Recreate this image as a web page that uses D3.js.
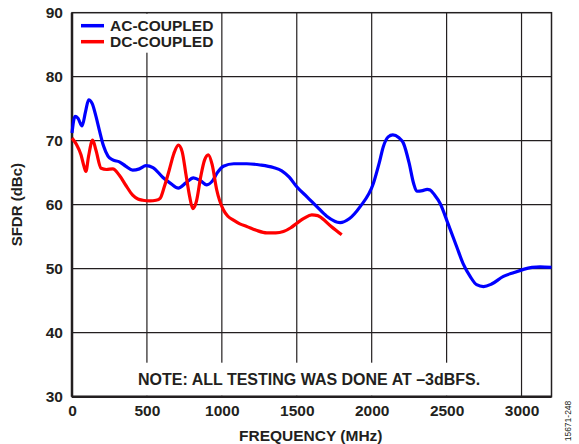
<!DOCTYPE html>
<html>
<head>
<meta charset="utf-8">
<script src="https://cdn.jsdelivr.net/npm/d3@7"></script>
<style>
  body { margin: 0; background: #fff; }
  text { font-family: "Liberation Sans", Arial, sans-serif; font-weight: bold; fill: #231f20; }
</style>
</head>
<body>
<div id="chart"></div>
<script>
// axis ticks
var freqTicks = [0, 500, 1000, 1500, 2000, 2500, 3000];
var sfdrTicks = [30, 40, 50, 60, 70, 80, 90];

// AC-coupled (blue)
var acFreq = [0, 20, 40, 67, 90, 111, 135, 160, 182, 210, 240, 272, 316, 360, 405, 450, 494, 540, 605, 660,
  710, 760, 810, 860, 899, 940, 970, 1010, 1080, 1166, 1255, 1344, 1400, 1450, 1500, 1570, 1634, 1700, 1789, 1850,
  1923, 2011, 2050, 2078, 2110, 2141, 2180, 2212, 2250, 2280, 2301, 2340, 2370, 2390, 2420, 2457, 2510, 2568, 2610, 2657,
  2700, 2746, 2800, 2879, 2950, 3013, 3070, 3124, 3200];
var acSfdr = [71.2, 73.8, 73.5, 72.3, 74.5, 76.4, 75.8, 73.8, 71.7, 69.2, 67.6, 67.0, 66.7, 66.0, 65.4, 65.6, 66.1, 65.8, 64.3, 63.3,
  62.6, 63.4, 64.2, 63.7, 63.1, 63.8, 65.0, 66.0, 66.4, 66.4, 66.2, 65.8, 65.3, 64.3, 62.8, 61.2, 59.7, 58.2, 57.2, 57.8,
  59.7, 63.3, 66.5, 69.1, 70.6, 70.9, 70.5, 69.6, 66.5, 63.3, 62.1, 62.2, 62.4, 62.3, 61.5, 60.2, 57.0, 53.4, 50.8, 48.8,
  47.5, 47.2, 47.6, 48.8, 49.4, 49.9, 50.2, 50.3, 50.2];

// DC-coupled (red)
var dcFreq = [0, 30, 60, 80, 93, 110, 138, 160, 194, 230, 272, 316, 360, 405, 440, 472, 520, 561, 588, 616,
  650, 680, 710, 735, 760, 785, 806, 830, 860, 885, 910, 935, 966, 1010, 1040, 1077, 1120, 1166, 1230, 1300,
  1360, 1411, 1460, 1500, 1550, 1600, 1640, 1667, 1730, 1800];
var dcSfdr = [70.4, 69.4, 67.8, 66.0, 65.2, 67.5, 70.1, 68.5, 65.7, 65.5, 65.6, 64.6, 63.0, 61.5, 60.9, 60.7, 60.6, 60.7, 61.0, 62.8,
  65.5, 68.0, 69.3, 68.3, 64.8, 61.3, 59.4, 60.5, 64.5, 67.0, 67.8, 66.3, 62.3, 59.2, 58.2, 57.6, 57.0, 56.6, 56.0, 55.6,
  55.6, 55.8, 56.4, 57.1, 57.9, 58.4, 58.3, 57.9, 56.6, 55.3];

var seriesNames = ["AC-COUPLED", "DC-COUPLED"];
var seriesColors = ["#0000ff", "#ff0000"];

var margin = {top: 12.7, right: 27.5, bottom: 47.3, left: 72},
    width = 579 - margin.left - margin.right,
    height = 444 - margin.top - margin.bottom;

var root = d3.select("#chart")
  .append("svg")
    .attr("width", 579)
    .attr("height", 444);

var svg = root.append("g")
    .attr("transform", "translate(" + margin.left + "," + margin.top + ")");

var x = d3.scaleLinear().domain([0, 3200]).range([0, width]);
var y = d3.scaleLinear().domain([30, 90]).range([height, 0]);

// grid
svg.append("g")
  .selectAll("line")
  .data(freqTicks.slice(1))
  .enter()
  .append("line")
    .attr("x1", function(d) { return x(d); })
    .attr("x2", function(d) { return x(d); })
    .attr("y1", 0)
    .attr("y2", height)
    .attr("stroke", "#231f20")
    .attr("stroke-width", 1.2);

svg.append("g")
  .selectAll("line")
  .data(sfdrTicks.slice(1, -1))
  .enter()
  .append("line")
    .attr("x1", 0)
    .attr("x2", width)
    .attr("y1", function(d) { return y(d); })
    .attr("y2", function(d) { return y(d); })
    .attr("stroke", "#231f20")
    .attr("stroke-width", 1.2);

// white boxes behind legend and note
svg.append("rect")
  .attr("x", 1).attr("y", 1)
  .attr("width", 145).attr("height", 39)
  .attr("fill", "#fff");

svg.append("rect")
  .attr("x", 62).attr("y", 350)
  .attr("width", 358).attr("height", height - 351)
  .attr("fill", "#fff");

// frame
svg.append("rect")
  .attr("width", width).attr("height", height)
  .attr("fill", "none")
  .attr("stroke", "#231f20")
  .attr("stroke-width", 1.5);
svg.append("line")
  .attr("x1", 0).attr("x2", 0).attr("y1", 0).attr("y2", height)
  .attr("stroke", "#231f20").attr("stroke-width", 2.5);
svg.append("line")
  .attr("x1", 0).attr("x2", width).attr("y1", height).attr("y2", height)
  .attr("stroke", "#231f20").attr("stroke-width", 2.5);

// axes labels
var xAxis = svg.append("g")
  .attr("transform", "translate(0," + height + ")")
  .call(d3.axisBottom(x).tickValues(freqTicks).tickSize(0).tickPadding(8).tickFormat(d3.format("d")));
xAxis.select(".domain").remove();
xAxis.selectAll("text").style("font-size", "15.5px").attr("fill", "#231f20");

var yAxis = svg.append("g")
  .call(d3.axisLeft(y).tickValues(sfdrTicks).tickSize(0).tickPadding(9));
yAxis.select(".domain").remove();
yAxis.selectAll("text").style("font-size", "15.5px").attr("fill", "#231f20");

svg.append("text")
  .attr("x", width / 2 - 1)
  .attr("y", height + 44)
  .attr("text-anchor", "middle")
  .style("font-size", "15.5px")
  .text("FREQUENCY (MHz)");

svg.append("text")
  .attr("transform", "translate(-50," + (height / 2) + ")rotate(-90)")
  .attr("text-anchor", "middle")
  .style("font-size", "15px")
  .text("SFDR (dBc)");

// lines
var line = d3.line()
  .x(function(d) { return x(d[0]); })
  .y(function(d) { return y(d[1]); })
  .curve(d3.curveMonotoneX);

svg.append("path")
  .datum(d3.zip(acFreq, acSfdr))
  .attr("d", line)
  .attr("fill", "none")
  .attr("stroke", seriesColors[0])
  .attr("stroke-width", 3.2);

svg.append("path")
  .datum(d3.zip(dcFreq, dcSfdr))
  .attr("d", line)
  .attr("fill", "none")
  .attr("stroke", seriesColors[1])
  .attr("stroke-width", 3.2);

// legend
var legend = svg.selectAll(".legend")
  .data(seriesNames)
  .enter()
  .append("g")
    .attr("transform", function(d, i) { return "translate(9," + (13 + i * 16) + ")"; });
legend.append("line")
  .attr("x1", 0).attr("x2", 23)
  .attr("stroke", function(d, i) { return seriesColors[i]; })
  .attr("stroke-width", 3.5);
legend.append("text")
  .attr("x", 29)
  .attr("y", 5.5)
  .style("font-size", "15.5px")
  .text(function(d) { return d; });

// note
svg.append("text")
  .attr("x", 66)
  .attr("y", 372)
  .style("font-size", "16px")
  .text("NOTE: ALL TESTING WAS DONE AT \u20133dBFS.");

// figure id
root.append("text")
  .attr("transform", "translate(571,421)rotate(-90)")
  .attr("text-anchor", "middle")
  .style("font-size", "8.5px")
  .style("font-weight", "normal")
  .text("15671-248");
</script>
</body>
</html>
